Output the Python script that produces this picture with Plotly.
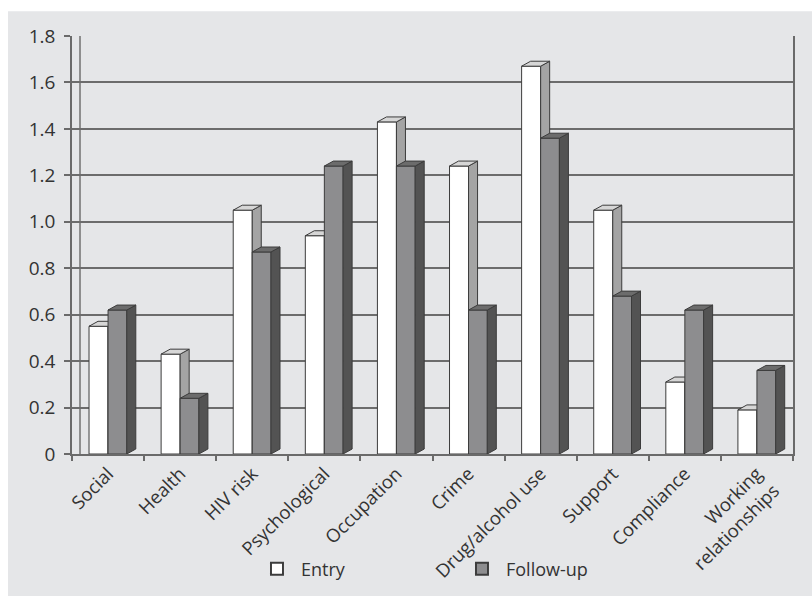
import plotly.graph_objects as go

categories = ["Social", "Health", "HIV risk", "Psychological", "Occupation", "Crime",
              "Drug/alcohol use", "Support", "Compliance", "Working<br>relationships"]
entry = [0.55, 0.43, 1.05, 0.94, 1.43, 1.24, 1.67, 1.05, 0.31, 0.19]
follow_up = [0.62, 0.24, 0.87, 1.24, 1.24, 0.62, 1.36, 0.68, 0.62, 0.36]
y_ticks = [0, 0.2, 0.4, 0.6, 0.8, 1.0, 1.2, 1.4, 1.6, 1.8]
y_tick_labels = ["0", "0.2", "0.4", "0.6", "0.8", "1.0", "1.2", "1.4", "1.6", "1.8"]

idx = list(range(len(categories)))
boundaries = [i - 0.5 for i in range(len(categories) + 1)]

# 3-D look parameters (in axis units)
DX, DY = 0.125, 0.0214
FONT = "'Open Sans', Lato, sans-serif"
TXT = "#333333"
EDGE = "#3c3c3c"


def faces(values, off, width):
    sx, sy, tx, ty = [], [], [], []
    for i, v in zip(idx, values):
        x0 = i + off
        x1 = x0 + width
        sx += [x1, x1, x1 + DX, x1 + DX, x1, None]
        sy += [0, v, v + DY, DY, 0, None]
        tx += [x0, x1, x1 + DX, x0 + DX, x0, None]
        ty += [v, v, v + DY, v + DY, v, None]
    return sx, sy, tx, ty


fig = go.Figure()

series = [
    ("Entry", entry, -0.264, 0.264, "#ffffff", "#a4a4a4", "#d6d6d6", "x", "y"),
    ("Follow-up", follow_up, 0.0, 0.26, "#8d8d8f", "#535353", "#6c6c6c", "x2", "y2"),
]
for name, vals, off, w, cf, cs, ct, xa, ya in series:
    fig.add_trace(go.Bar(
        x=idx, y=vals, name=name, offset=off, width=w,
        marker=dict(color=cf, line=dict(color=EDGE, width=1)),
        xaxis=xa, yaxis=ya, hoverinfo="skip"))
    sx, sy, tx, ty = faces(vals, off, w)
    fig.add_trace(go.Scatter(x=sx, y=sy, fill="toself", fillcolor=cs, mode="lines",
                             line=dict(color=EDGE, width=1), showlegend=False,
                             xaxis=xa, yaxis=ya, hoverinfo="skip"))
    fig.add_trace(go.Scatter(x=tx, y=ty, fill="toself", fillcolor=ct, mode="lines",
                             line=dict(color=EDGE, width=1), showlegend=False,
                             xaxis=xa, yaxis=ya, hoverinfo="skip"))

XR = [-0.5, 9.5]
YR = [0, 1.8]

fig.update_layout(
    width=812, height=600,
    margin=dict(l=72, r=19, t=36, b=143),
    paper_bgcolor="#ffffff",
    plot_bgcolor="rgba(0,0,0,0)",
    font=dict(family=FONT, size=18, color=TXT),
    showlegend=True,
    barmode="overlay",
    legend=dict(orientation="h", x=0.251, xanchor="left", y=-0.2755, yanchor="middle",
                bgcolor="rgba(0,0,0,0)", font=dict(family=FONT, size=18, color=TXT),
                entrywidth=152, entrywidthmode="pixels", itemsizing="constant",
                itemwidth=38, traceorder="normal"),
    xaxis=dict(range=XR, tickvals=idx, ticktext=categories, tickangle=-45,
               ticks="", showgrid=False, zeroline=False, showline=True,
               linecolor="#6a6a6a", linewidth=1.5,
               tickfont=dict(family=FONT, size=18.5, color=TXT)),
    yaxis=dict(range=YR, tickvals=y_ticks, ticktext=y_tick_labels, ticks="outside",
               ticklen=6, tickcolor="#6a6a6a", tickwidth=1.5, ticklabelstandoff=5,
               showgrid=True, gridcolor="#6c6c6c", gridwidth=1.5, zeroline=False,
               showline=True, linecolor="#6a6a6a", linewidth=1.5, mirror=True,
               tickfont=dict(family=FONT, size=19, color=TXT)),
    xaxis2=dict(range=XR, overlaying="x", side="bottom", tickvals=boundaries,
                showticklabels=False, ticks="outside", ticklen=6, tickcolor="#6a6a6a",
                tickwidth=1.5, showgrid=False, zeroline=False, showline=False),
    yaxis2=dict(range=YR, overlaying="y", showticklabels=False, showgrid=False,
                zeroline=False, showline=False, ticks=""),
    shapes=[
        dict(type="rect", xref="paper", yref="paper", layer="below",
             x0=(8 - 72) / 721, x1=(812 - 72) / 721, y0=(457 - 600) / 421, y1=(457 - 11) / 421,
             fillcolor="#e5e6e8", line=dict(width=0)),
        dict(type="line", xref="paper", yref="paper", layer="below",
             x0=8 / 721, x1=8 / 721, y0=0, y1=1, line=dict(color="#707070", width=1.5)),
    ],
)

fig.write_html("out.html")
